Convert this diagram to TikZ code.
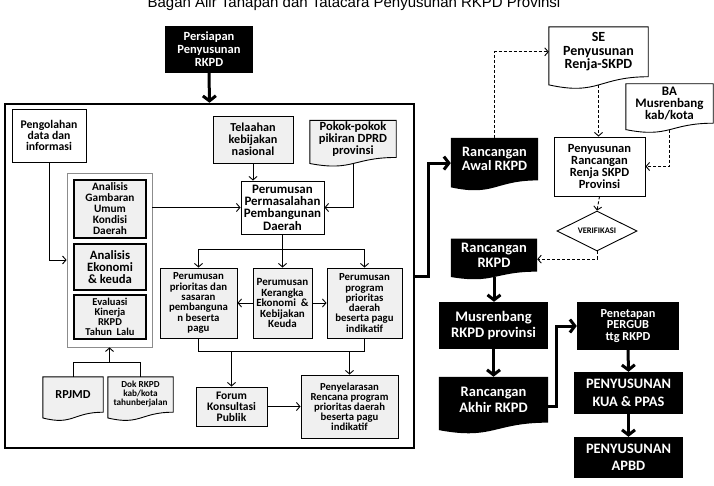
\documentclass[tikz,border=0pt]{standalone}
\usepackage{fontspec}
\setmainfont{Carlito}
\newfontfamily\titlefont{Liberation Sans}
\usetikzlibrary{arrows.meta,calc,shapes.geometric,backgrounds}
\newcommand{\sz}[2]{\fontsize{#1}{#2}\bfseries\selectfont}
\newcommand{\docpath}[2]{%
  \path[#2] (#1.north west) -- (#1.north east) -- (#1.south east)
    .. controls (#1.south) and ($(#1.north)!1.384!(#1.south)$)
    .. ($(#1.north west)!1.1625!(#1.south west)$) -- cycle;
  \coordinate (#1-b) at ($(#1.north)!1.164!(#1.south)$);}
\begin{document}
\begin{tikzpicture}[x=1pt,y=-1pt,
    box/.style={draw,line width=.9pt,inner sep=1pt,align=center},
    grey/.style={box,fill=black!6},
    gbox/.style={grey,line width=1.5pt},
    blk/.style={fill=black,text=white,inner sep=1pt,align=center},
    doc/.style={inner sep=1pt,align=center},
    line/.style={line width=.9pt},
    arr/.style={line,-{Straight Barb[length=3.5pt,width=8pt]}},
    dasharr/.style={arr,dash pattern=on 3pt off 2pt},
    bigarr/.style={line width=3pt,-{Straight Barb[length=5pt,width=13pt]}}]
  \useasboundingbox (0,0) rectangle (714,486);
  \node[font=\titlefont\fontsize{15}{18}\selectfont,anchor=base] (title) at (354,8)
    {Bagan Alir Tahapan dan Tatacara Penyusunan RKPD Provinsi};

  \node[blk,minimum width=88,minimum height=47,font=\sz{12.5}{13}] (persiapan) at (209,49.5) {Persiapan\\Penyusunan\\RKPD};
  \node[draw,line width=2.5pt,minimum width=409,minimum height=344] (frame) at (209.5,276) {};

  \node[box,minimum width=74,minimum height=53,font=\sz{11.7}{11}] (pengolahan) at (49,135.5) {Pengolahan\\data dan\\informasi};
  \node[draw=black!45,line width=.8pt,minimum width=85,minimum height=174] (grp) at (109.5,260) {};
  \node[gbox,minimum width=72,minimum height=58,font=\sz{11.3}{11}] (gambaran) at (110,209) {Analisis\\Gambaran\\Umum\\Kondisi\\Daerah};
  \node[gbox,minimum width=72,minimum height=46,font=\sz{12.7}{12}] (ekonomi) at (110,267) {Analisis\\Ekonomi\\\& keuda};
  \node[gbox,minimum width=72,minimum height=44,font=\sz{10.5}{10}] (evaluasi) at (110,317) {Evaluasi\\Kinerja\\RKPD\\Tahun~ Lalu};
  \node[grey,minimum width=80,minimum height=47,font=\sz{12.2}{12}] (telaahan) at (253,139.5) {Telaahan\\kebijakan\\nasional};
  \node[doc,minimum width=86,minimum height=35.7,font=\sz{12.5}{12}] (pokok) at (353,138.9) {Pokok-pokok\\pikiran DPRD\\provinsi};
  \node[box,minimum width=83,minimum height=53,font=\sz{12.9}{12.3}] (permasalahan) at (282.5,207.5) {Perumusan\\Permasalahan\\Pembangunan\\Daerah};
  \node[grey,minimum width=77,minimum height=70,font=\sz{10.8}{10.3}] (prioritas) at (198.5,303) {Perumusan\\prioritas dan\\sasaran\\pembanguna\\n beserta\\pagu};
  \node[grey,minimum width=59,minimum height=70,font=\sz{11}{10.5}] (kerangka) at (282.5,303) {Perumusan\\Kerangka\\Ekonomi~ \&\\Kebijakan\\Keuda};
  \node[grey,minimum width=75,minimum height=70,font=\sz{10.8}{10.3}] (program) at (364.5,303) {Perumusan\\program\\prioritas\\daerah\\beserta pagu\\indikatif};
  \node[grey,minimum width=71,minimum height=39,font=\sz{11.5}{11}] (forum) at (231.5,406.5) {Forum\\Konsultasi\\Publik};
  \node[grey,minimum width=97,minimum height=63,font=\sz{10.7}{10}] (penyelarasan) at (349.5,406.5) {Penyelarasan\\Rencana program\\prioritas daerah\\beserta pagu\\indikatif};
  \node[doc,minimum width=60,minimum height=35,font=\sz{12.2}{12}] (rpjmd) at (73,394.5) {RPJMD};
  \node[doc,minimum width=65,minimum height=35,font=\sz{9.2}{9}] (dok) at (140.5,394.5) {Dok RKPD\\kab/kota\\tahunberjalan};

  \node[doc,minimum width=99,minimum height=49.5,font=\sz{14}{13.3}] (se) at (598.5,51.8) {SE\\Penyusunan\\Renja-SKPD};
  \node[doc,minimum width=87,minimum height=39,font=\sz{13}{12}] (ba) at (669.5,103.5) {BA\\Musrenbang\\kab/kota};
  \node[box,minimum width=91,minimum height=59,font=\sz{12.5}{12}] (renja) at (599.5,166.5) {Penyusunan\\Rancangan\\Renja SKPD\\Provinsi};
  \node[draw,line width=.9pt,shape=diamond,aspect=2,inner sep=0pt,minimum width=80,minimum height=40,font=\sz{8.5}{9}] (verif) at (597,231) {VERIFIKASI};
  \node[doc,text=white,minimum width=87,minimum height=42.2,font=\sz{14.3}{13.5}] (awal) at (494.5,159.1) {Rancangan\\Awal RKPD};
  \node[doc,text=white,minimum width=86,minimum height=32.5,font=\sz{14.5}{14.3}] (rkpd) at (494,255.2) {Rancangan\\RKPD};
  \node[blk,minimum width=109,minimum height=47,font=\sz{14.6}{16.5}] (musren) at (493.5,325.5) {Musrenbang\\RKPD provinsi};
  \node[doc,text=white,minimum width=109,minimum height=45.5,font=\sz{14.5}{16.5}] (akhir) at (493.5,399.7) {Rancangan\\Akhir RKPD};
  \node[blk,minimum width=102,minimum height=48,font=\sz{12.3}{11.7}] (penetapan) at (628,326) {Penetapan\\PERGUB\\ttg RKPD};
  \node[blk,minimum width=109,minimum height=42,font=\sz{14.4}{17.5}] (kua) at (628.5,393) {PENYUSUNAN\\KUA \& PPAS};
  \node[blk,minimum width=109,minimum height=41,font=\sz{14.4}{17.5}] (apbd) at (628.5,457.5) {PENYUSUNAN\\APBD};

  \begin{pgfonlayer}{background}
    \docpath{pokok}{draw,line width=.9pt,fill=black!6}
    \docpath{rpjmd}{draw,line width=.9pt,fill=black!6}
    \docpath{dok}{draw,line width=.9pt,fill=black!6}
    \docpath{se}{draw,line width=.9pt,fill=white}
    \docpath{ba}{draw,line width=.9pt,fill=white}
    \docpath{awal}{fill=black}
    \docpath{rkpd}{fill=black}
    \docpath{akhir}{fill=black}
  \end{pgfonlayer}

  \draw[bigarr] (persiapan.south) -- (frame.north);
  \draw[arr] (pengolahan.south) |- (grp.west);
  \draw[arr] (grp.east |- permasalahan.west) -- (permasalahan.west);
  \draw[arr] (telaahan.south) -- (telaahan.south |- permasalahan.north);
  \draw[arr] (pokok-b) |- (permasalahan.east);
  \draw[arr] (permasalahan.south) -- (kerangka.north);
  \coordinate (split) at ($(permasalahan.south)+(0,15)$);
  \draw[arr] (split) -| (prioritas.north);
  \draw[arr] (split) -| (program.north);
  \draw[arr] (kerangka.west) -- (prioritas.east);
  \draw[arr] (kerangka.east) -- (program.west);
  \coordinate (merge) at ($(prioritas.south)+(0,13)$);
  \draw[line] (prioritas.south) -- (merge) -| (program.south);
  \draw[arr] (merge -| forum.north) -- (forum.north);
  \draw[arr] (merge -| penyelarasan.north) -- (penyelarasan.north);
  \draw[arr] (forum.east) -- (penyelarasan.west);
  \coordinate (src) at ($(rpjmd.north)+(0,-14)$);
  \draw[line] (rpjmd.north) -- (src) -| (dok.north);
  \draw[arr] (src -| grp.south) -- (grp.south);

  \draw[bigarr] (frame.east) -- ++(13,0) |- ([yshift=-4pt]awal.west);
  \draw[dasharr] (awal.north) |- (se.west);
  \draw[dasharr] (se-b) -- (se-b |- renja.north);
  \draw[dasharr] (ba-b) |- (renja.east);
  \draw[dasharr] (renja.south) -- (verif.north);
  \draw[dasharr] (verif.south) |- ([yshift=-4pt]rkpd.east);
  \draw[bigarr] (rkpd-b) -- (rkpd-b |- musren.north);
  \draw[bigarr] (musren.south) -- (akhir.north);
  \draw[bigarr] ([yshift=-7pt]akhir.east) -- ++(8,0) |- (penetapan.west);
  \draw[bigarr] (penetapan.south) -- (kua.north);
  \draw[bigarr] (kua.south) -- (apbd.north);
\end{tikzpicture}
\end{document}
